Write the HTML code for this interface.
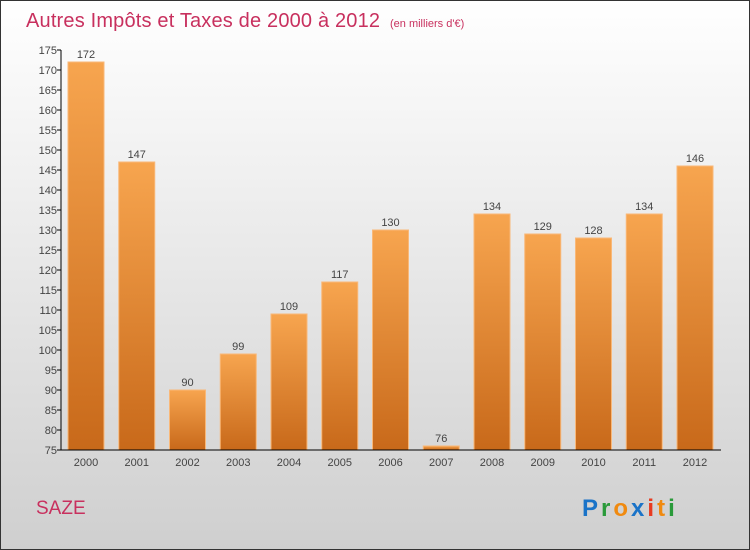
<!DOCTYPE html>
<html><head><meta charset="utf-8"><style>
body{margin:0;width:750px;height:550px;overflow:hidden;font-family:"Liberation Sans",sans-serif}
svg{display:block}
</style></head><body>
<svg id="c" width="750" height="550" xmlns="http://www.w3.org/2000/svg">
<defs>
<linearGradient id="bg" x1="0" y1="0" x2="0" y2="1"><stop offset="0" stop-color="#ffffff"/><stop offset="1" stop-color="#cfcfcf"/></linearGradient>
<linearGradient id="bar" x1="0" y1="0" x2="0" y2="1"><stop offset="0" stop-color="#f7a54f"/><stop offset="1" stop-color="#c8691a"/></linearGradient>
</defs>
<rect x="0.5" y="0.5" width="749" height="549" fill="url(#bg)" stroke="#333"/>
<text x="26" y="27" font-size="20" fill="#c8305e" textLength="354">Autres Impôts et Taxes de 2000 à 2012</text>
<text x="390" y="27" font-size="11" fill="#c8305e">(en milliers d'€)</text>
<text x="36" y="514" font-size="19" fill="#c8305e">SAZE</text>
<text x="582" y="516" font-size="24" font-weight="bold" letter-spacing="3"><tspan fill="#1a73c8">P</tspan><tspan fill="#2a9a3a">r</tspan><tspan fill="#f08a10">o</tspan><tspan fill="#1a73c8">x</tspan><tspan fill="#e83a20">i</tspan><tspan fill="#f08a10">t</tspan><tspan fill="#2a9a3a">i</tspan></text>
<g id="plot"></g>
</svg>
<script>
const years=["2000","2001","2002","2003","2004","2005","2006","2007","2008","2009","2010","2011","2012"];
const values=[172,147,90,99,109,117,130,76,134,129,128,134,146];
const yTicks=[75,80,85,90,95,100,105,110,115,120,125,130,135,140,145,150,155,160,165,170,175];
const NS="http://www.w3.org/2000/svg";
const g=document.getElementById('plot');
const y=v=>450-(v-75)*4;
const x=i=>86+i*50.75;
function mk(t,a){const e=document.createElementNS(NS,t);for(const k in a)e.setAttribute(k,a[k]);g.appendChild(e);return e;}
yTicks.forEach(v=>{
 const l=mk('line',{x1:57,x2:61,y1:y(v),y2:y(v),stroke:'#000'});
 
 
 const t=mk('text',{x:57,y:y(v)+4,'text-anchor':'end','font-size':11,fill:'#444'});
 t.textContent=v;
 
 
});
values.forEach((v,i)=>{
 const r=mk('rect',{x:x(i)-18,y:y(v),width:36,height:450-y(v),fill:'url(#bar)',stroke:'#f9b878','stroke-width':1});
 
 
 const t=mk('text',{x:x(i),y:y(v)-4,'text-anchor':'middle','font-size':11,fill:'#444'});
 t.textContent=v;
 
 
 const xl=mk('text',{x:x(i),y:466,'text-anchor':'middle','font-size':11,fill:'#444'});
 xl.textContent=years[i];
 
 
});
const ya=mk('line',{x1:61,x2:61,y1:50,y2:450,stroke:'#000'});


const xa=mk('line',{x1:61,x2:721,y1:450,y2:450,stroke:'#000'});


</script>
</body></html>
